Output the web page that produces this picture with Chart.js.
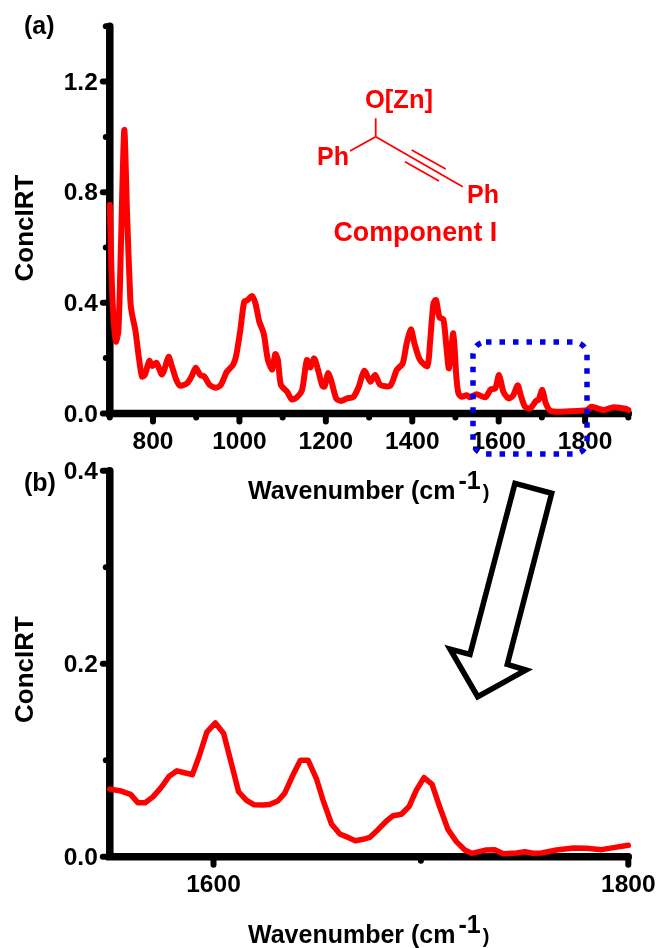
<!DOCTYPE html>
<html>
<head>
<meta charset="utf-8">
<title>ConcIRT</title>
<script src="https://cdn.jsdelivr.net/npm/chart.js@4"></script>
<style>
  html, body { margin: 0; padding: 0; background: #fff; }
  #page { position: relative; width: 659px; height: 948px; overflow: hidden; }
  canvas { position: absolute; left: 0; }
  #chartA { top: 0; }
  #chartB { top: 440px; }
  svg { position: absolute; left: 0; top: 0; }
  svg text { font-family: "Liberation Sans", Arial, sans-serif; font-weight: bold; }
</style>
</head>
<body>
<div id="page">
  <canvas id="chartA" width="659" height="470"></canvas>
  <canvas id="chartB" width="659" height="508"></canvas>
  <svg width="659" height="948">
    <!-- zoom box and arrow -->
    <rect x="473" y="342" width="114" height="112" rx="13" fill="none" stroke="#0000e6" stroke-width="5.5" stroke-dasharray="5.5 8"/>
    <polygon points="515,483.3 551.7,493.3 507.3,664.3 526,670 477.7,696.7 450,649 470,654.3" fill="#fff" stroke="#000" stroke-width="5.5"/>

    <!-- structure -->
    <g stroke="#f00" stroke-width="1.8" fill="none">
      <line x1="375.7" y1="118.3" x2="375.7" y2="136.7"/>
      <line x1="375.7" y1="136.7" x2="350" y2="151"/>
      <line x1="375.7" y1="136.7" x2="462.7" y2="186.7"/>
      <line x1="411.7" y1="150" x2="445.7" y2="169"/>
      <line x1="405" y1="161.7" x2="439" y2="181"/>
    </g>
    <g fill="#f00">
      <text x="365" y="108" font-size="25.5">O[Zn]</text>
      <text x="317" y="165" font-size="25">Ph</text>
      <text x="467" y="203" font-size="25">Ph</text>
      <text x="333.5" y="241" font-size="26.8">Component I</text>
    </g>

    <!-- panel letters -->
    <text x="24" y="34" font-size="25">(a)</text>
    <text x="24" y="491" font-size="25">(b)</text>

    <!-- axis titles -->
    <text transform="translate(33,228) rotate(-90)" text-anchor="middle" font-size="26">ConcIRT</text>
    <text transform="translate(33,669.5) rotate(-90)" text-anchor="middle" font-size="26">ConcIRT</text>
    <text x="248" y="499" font-size="25">Wavenumber (cm<tspan dx="3" dy="-10">-1</tspan><tspan dx="2" dy="10" font-size="20">)</tspan></text>
    <text x="248" y="943" font-size="25">Wavenumber (cm<tspan dx="3" dy="-10">-1</tspan><tspan dx="2" dy="10" font-size="20">)</tspan></text>
  </svg>
</div>
<script>
// panel (a), full spectrum
var waveA = [700, 706, 714, 720, 726, 733.5, 740, 747.5, 751, 759, 767, 774.5, 781, 791.5, 799, 808, 820, 826, 836, 844, 854, 863, 879, 889, 899, 909, 919, 931, 946, 957, 971, 985, 992, 1002, 1011, 1019, 1029, 1037, 1046, 1056, 1066, 1076, 1083, 1089, 1096, 1110, 1121, 1133, 1145, 1156, 1164, 1173, 1181, 1192, 1197, 1205, 1212, 1224, 1235, 1249, 1264, 1276, 1289, 1303, 1314, 1326, 1349, 1364, 1378, 1387, 1397, 1405, 1418, 1435, 1441, 1449, 1455, 1463, 1472, 1479, 1485, 1495, 1502, 1507, 1515, 1526, 1534, 1549, 1569, 1582, 1592, 1601, 1611, 1623, 1634, 1644, 1651, 1661, 1673, 1687, 1692, 1701, 1709, 1721, 1765, 1804, 1815, 1842, 1866, 1896, 1900];
var concA = [0.754, 0.42, 0.26, 0.30, 0.62, 1.025, 0.72, 0.41, 0.362, 0.302, 0.205, 0.133, 0.139, 0.19, 0.171, 0.183, 0.141, 0.157, 0.205, 0.169, 0.121, 0.10, 0.109, 0.133, 0.165, 0.139, 0.133, 0.103, 0.093, 0.103, 0.151, 0.175, 0.205, 0.30, 0.404, 0.41, 0.425, 0.398, 0.332, 0.29, 0.193, 0.159, 0.215, 0.193, 0.103, 0.079, 0.051, 0.058, 0.085, 0.193, 0.166, 0.199, 0.163, 0.099, 0.097, 0.145, 0.121, 0.054, 0.045, 0.054, 0.06, 0.096, 0.154, 0.115, 0.139, 0.103, 0.10, 0.157, 0.181, 0.253, 0.304, 0.253, 0.193, 0.171, 0.253, 0.398, 0.41, 0.347, 0.34, 0.241, 0.163, 0.29, 0.133, 0.072, 0.06, 0.066, 0.058, 0.069, 0.058, 0.087, 0.09, 0.139, 0.078, 0.054, 0.066, 0.102, 0.066, 0.024, 0.018, 0.046, 0.048, 0.085, 0.036, 0.008, 0.008, 0.012, 0.024, 0.012, 0.022, 0.016, 0.012];

// panel (b), 1550-1800 region
var waveB = [1550, 1555.5, 1560, 1563.5, 1567, 1570.8, 1574.8, 1578.5, 1582.4, 1586, 1589.8, 1593, 1596.8, 1600.9, 1604.9, 1608.6, 1612.1, 1615.8, 1619.4, 1623.9, 1627, 1631, 1634.3, 1638.3, 1641.9, 1645.6, 1649.6, 1652.8, 1656.9, 1660.9, 1664.9, 1668.4, 1672.1, 1675.3, 1679.3, 1683.4, 1686.6, 1690.6, 1694.3, 1697.8, 1701.5, 1705.4, 1709, 1713.1, 1717.1, 1721.2, 1724.4, 1727.6, 1731.6, 1735.6, 1739.7, 1746.1, 1750.1, 1754.1, 1758.2, 1765.4, 1773.5, 1779.9, 1787.1, 1793.6, 1800];
var concB = [0.07, 0.068, 0.0646, 0.056, 0.056, 0.062, 0.0718, 0.083, 0.089, 0.087, 0.085, 0.1036, 0.129, 0.1387, 0.1277, 0.0967, 0.0673, 0.0587, 0.0539, 0.0535, 0.054, 0.0577, 0.0656, 0.0846, 0.1, 0.1, 0.081, 0.0587, 0.0339, 0.0235, 0.02, 0.0166, 0.018, 0.02, 0.028, 0.037, 0.0425, 0.044, 0.052, 0.069, 0.082, 0.075, 0.052, 0.028, 0.0156, 0.007, 0.0035, 0.005, 0.007, 0.0073, 0.003, 0.0038, 0.0052, 0.0035, 0.0038, 0.007, 0.009, 0.0087, 0.0073, 0.0097, 0.0118];

// ticks
var xMajorA = [800, 1000, 1200, 1400, 1600, 1800];
var xMinorA = [700, 900, 1100, 1300, 1500, 1700, 1900];
var yMajorA = [0, 0.4, 0.8, 1.2];
var yMinorA = [0.2, 0.6, 1.0, 1.4];
var xMajorB = [1600, 1800];
var xMinorB = [1700];
var yMajorB = [0, 0.2, 0.4];
var yMinorB = [0.1, 0.3];

// black axes with rounded ticks, like the original graph
var axisMarks = {
  id: 'axisMarks',
  beforeDatasetsDraw: function (chart, args, opts) {
    var ctx = chart.ctx, x = chart.scales.x, y = chart.scales.y;
    var left = x.left, bottom = y.bottom;
    ctx.save();
    ctx.strokeStyle = '#000';
    ctx.lineCap = 'round';
    ctx.lineWidth = 6;
    opts.xMajor.concat(opts.xMinor).forEach(function (v) {
      var px = x.getPixelForValue(v);
      var len = opts.xMajor.indexOf(v) >= 0 ? 8 : 4;
      ctx.beginPath(); ctx.moveTo(px, bottom); ctx.lineTo(px, bottom + len); ctx.stroke();
    });
    opts.yMajor.concat(opts.yMinor).forEach(function (v) {
      var py = y.getPixelForValue(v);
      var len = opts.yMajor.indexOf(v) >= 0 ? 7 : 4;
      ctx.beginPath(); ctx.moveTo(left, py); ctx.lineTo(left - len, py); ctx.stroke();
    });
    ctx.lineWidth = 7.5;
    ctx.beginPath();
    ctx.moveTo(left, y.top);
    ctx.lineTo(left, bottom);
    ctx.lineTo(x.right, bottom);
    ctx.stroke();
    ctx.restore();
  }
};

function setTicks(major, minor) {
  return function (scale) {
    scale.ticks = major.concat(minor).sort(function (a, b) { return a - b; }).map(function (v) {
      return { value: v };
    });
  };
}

function makeChart(id, waves, conc, cfg) {
  var points = waves.map(function (w, i) { return { x: w, y: conc[i] }; });
  var tickFont = { family: '"Liberation Sans", Arial, sans-serif', weight: 'bold', size: 24.5 };
  return new Chart(document.getElementById(id), {
    type: 'line',
    data: {
      datasets: [{
        data: points,
        borderColor: '#ff0000',
        borderWidth: cfg.lineWidth,
        pointRadius: 0,
        tension: cfg.tension,
        borderJoinStyle: 'round',
        borderCapStyle: 'round',
        clip: false
      }]
    },
    options: {
      responsive: false,
      animation: false,
      layout: { padding: { top: cfg.top, right: 30.7, bottom: 0, left: 0 } },
      plugins: {
        legend: { display: false },
        tooltip: { enabled: false },
        axisMarks: { xMajor: cfg.xMajor, xMinor: cfg.xMinor, yMajor: cfg.yMajor, yMinor: cfg.yMinor }
      },
      scales: {
        x: {
          type: 'linear',
          min: cfg.xMin,
          max: cfg.xMax,
          grid: { display: false, drawTicks: false },
          border: { display: false },
          afterBuildTicks: setTicks(cfg.xMajor, cfg.xMinor),
          afterFit: function (s) { s.height = cfg.xHeight; s.paddingLeft = 0; s.paddingRight = 0; },
          ticks: {
            autoSkip: false,
            maxRotation: 0,
            minRotation: 0,
            padding: cfg.xPad,
            color: '#000',
            font: tickFont,
            callback: function (v) { return cfg.xMajor.indexOf(v) >= 0 ? String(v) : ''; }
          }
        },
        y: {
          min: 0,
          max: cfg.yMax,
          grid: { display: false, drawTicks: false },
          border: { display: false },
          afterBuildTicks: setTicks(cfg.yMajor, cfg.yMinor),
          afterFit: function (s) { s.width = 109.8; s.paddingTop = 0; s.paddingBottom = 0; },
          ticks: {
            autoSkip: false,
            padding: 12,
            labelOffset: 1.5,
            color: '#000',
            font: tickFont,
            callback: function (v) { return cfg.yMajor.indexOf(v) >= 0 ? v.toFixed(1) : ''; }
          }
        }
      }
    },
    plugins: [axisMarks]
  });
}

makeChart('chartA', waveA, concA, {
  xMin: 700, xMax: 1900, yMax: 1.4,
  xMajor: xMajorA, xMinor: xMinorA, yMajor: yMajorA, yMinor: yMinorA,
  top: 26.3, xHeight: 56.6, xPad: 14, lineWidth: 6, tension: 0.25
});

makeChart('chartB', waveB, concB, {
  xMin: 1550, xMax: 1800, yMax: 0.4,
  xMajor: xMajorB, xMinor: xMinorB, yMajor: yMajorB, yMinor: yMinorB,
  top: 30.7, xHeight: 91.3, xPad: 14, lineWidth: 5.5, tension: 0
});
</script>
</body>
</html>
